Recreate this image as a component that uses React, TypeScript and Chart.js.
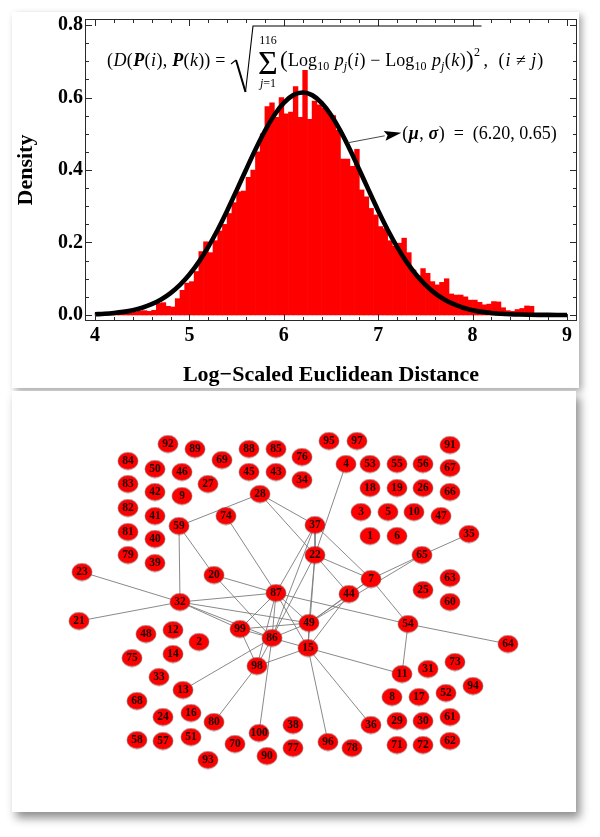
import React, { useEffect, useRef } from "react";
import { Chart, registerables } from "chart.js";
Chart.register(...registerables);

// ---------- Histogram data (bin left edges, density) ----------
const binLeft = [
  4.0, 4.05, 4.1, 4.15, 4.2, 4.25, 4.3, 4.35, 4.4, 4.45, 4.5, 4.55, 4.6, 4.65, 4.7, 4.75, 4.8, 4.85, 4.9, 4.95,
  5.0, 5.05, 5.1, 5.15, 5.2, 5.25, 5.3, 5.35, 5.4, 5.45, 5.5, 5.55, 5.6, 5.65, 5.7, 5.75, 5.8, 5.85, 5.9, 5.95,
  6.0, 6.05, 6.1, 6.15, 6.2, 6.25, 6.3, 6.35, 6.4, 6.45, 6.5, 6.55, 6.6, 6.65, 6.7, 6.75, 6.8, 6.85, 6.9, 6.95,
  7.0, 7.05, 7.1, 7.15, 7.2, 7.25, 7.3, 7.35, 7.4, 7.45, 7.5, 7.55, 7.6, 7.65, 7.7, 7.75, 7.8, 7.85, 7.9, 7.95,
  8.0, 8.05, 8.1, 8.15, 8.2, 8.25, 8.3, 8.35, 8.4, 8.45, 8.5, 8.55, 8.6,
];
const binWidth = 0.05;
const density = [
  0.004, 0.003, 0.003, 0.004, 0.003, 0.004, 0.006, 0.005, 0.008, 0.011, 0.012, 0.01, 0.013, 0.032, 0.034, 0.024, 0.022, 0.045, 0.068, 0.088,
  0.092, 0.12, 0.175, 0.202, 0.172, 0.205, 0.232, 0.25, 0.28, 0.31, 0.34, 0.342, 0.38, 0.4, 0.45, 0.5, 0.575, 0.585, 0.545, 0.6,
  0.555, 0.56, 0.63, 0.545, 0.675, 0.54, 0.59, 0.58, 0.57, 0.56, 0.55, 0.51, 0.43, 0.43, 0.41, 0.457, 0.345, 0.326, 0.294, 0.276,
  0.244, 0.238, 0.205, 0.19, 0.198, 0.212, 0.172, 0.124, 0.108, 0.128, 0.115, 0.092, 0.083, 0.09, 0.1, 0.058, 0.055, 0.055, 0.05, 0.041,
  0.041, 0.035, 0.028, 0.03, 0.037, 0.036, 0.02, 0.012, 0.01, 0.015, 0.018, 0.025, 0.024,
];

// ---------- Fitted curve ----------
const curveX = [
  4.0, 4.1, 4.2, 4.3, 4.4, 4.5, 4.6, 4.7, 4.8, 4.9, 5.0, 5.1, 5.2, 5.3, 5.4, 5.5, 5.6, 5.7, 5.8, 5.9,
  6.0, 6.1, 6.2, 6.3, 6.4, 6.5, 6.6, 6.7, 6.8, 6.9, 7.0, 7.1, 7.2, 7.3, 7.4, 7.5, 7.6, 7.7, 7.8, 7.9,
  8.0, 8.1, 8.2, 8.3, 8.4, 8.5, 8.6, 8.7, 8.8, 8.9, 9.0,
];
const curveY = [
  0.002, 0.0033, 0.0054, 0.0086, 0.0133, 0.0201, 0.0297, 0.0428, 0.0604, 0.0831, 0.1117, 0.1466, 0.188, 0.2353, 0.2878, 0.3437, 0.4009, 0.4566, 0.5079, 0.5518,
  0.5854, 0.6066, 0.6138, 0.6066, 0.5854, 0.5518, 0.5079, 0.4566, 0.4009, 0.3437, 0.2878, 0.2353, 0.188, 0.1466, 0.1117, 0.0831, 0.0604, 0.0428, 0.0297, 0.0201,
  0.0133, 0.0086, 0.0054, 0.0033, 0.002, 0.0012, 0.0007, 0.0004, 0.0002, 0.0001, 0.0,
];
const fitMu = 6.2;
const fitSigma = 0.65;

const xTickValues = [4, 5, 6, 7, 8, 9];
const yTickValues = [0, 0.2, 0.4, 0.6, 0.8];
const xAxisTitle = "Log\u2212Scaled Euclidean Distance";
const yAxisTitle = "Density";

// ---------- Network data ----------
const nodeIds = [
  1, 2, 3, 4, 5, 6, 7, 8, 9, 10, 11, 12, 13, 14, 15, 16, 17, 18, 19, 20,
  21, 22, 23, 24, 25, 26, 27, 28, 29, 30, 31, 32, 33, 34, 35, 36, 37, 38, 39, 40,
  41, 42, 43, 44, 45, 46, 47, 48, 49, 50, 51, 52, 53, 54, 55, 56, 57, 58, 59, 60,
  61, 62, 63, 64, 65, 66, 67, 68, 69, 70, 71, 72, 73, 74, 75, 76, 77, 78, 79, 80,
  81, 82, 83, 84, 85, 86, 87, 88, 89, 90, 91, 92, 93, 94, 95, 96, 97, 98, 99, 100,
];
const nodeX = [
  370, 199, 361, 346, 388, 397, 371, 392, 182, 414, 402, 173, 183, 173, 308, 191, 419, 370, 397, 214,
  79, 315, 82, 163, 423, 423, 208, 260, 397, 423, 428, 180, 159, 302, 469, 371, 315, 293, 155, 155,
  155, 155, 276, 349, 249, 182, 441, 146, 309, 155, 191, 446, 370, 408, 397, 423, 163, 137, 179, 450,
  450, 450, 450, 508, 422, 450, 450, 137, 222, 235, 397, 423, 455, 226, 132, 302, 293, 352, 128, 214,
  128, 128, 128, 128, 276, 272, 276, 249, 195, 267, 450, 168, 208, 473, 329, 328, 357, 257, 240, 259,
];
const nodeY = [
  536, 642, 512, 464, 512, 536, 579, 697, 496, 512, 674, 630, 690, 654, 648, 713, 697, 488, 488, 575,
  621, 555, 572, 717, 590, 488, 484, 494, 721, 721, 669, 602, 677, 480, 534, 725, 525, 725, 563, 539,
  516, 492, 472, 594, 472, 472, 516, 634, 623, 469, 737, 693, 464, 624, 464, 464, 741, 740, 526, 602,
  717, 741, 578, 644, 555, 492, 468, 701, 460, 744, 745, 745, 662, 516, 658, 457, 748, 748, 555, 722,
  532, 508, 484, 461, 449, 638, 593, 449, 449, 756, 445, 444, 760, 686, 441, 742, 441, 666, 629, 733,
];
const edgeFrom = [
  28, 28, 28, 59, 59, 74, 20, 20, 23, 21, 32, 32, 32, 32, 37, 37, 37, 37, 4, 22,
  22, 22, 22, 22, 7, 49, 65, 7, 7, 7, 44, 44, 87, 87, 87, 87, 87, 87, 99, 99,
  99, 86, 86, 86, 86, 13, 98, 98, 15, 15, 15, 15, 54, 54,
];
const edgeTo = [
  59, 37, 22, 32, 20, 87, 87, 86, 32, 32, 87, 99, 86, 49, 22, 87, 7, 86, 22, 7,
  44, 49, 15, 86, 65, 65, 35, 54, 49, 44, 49, 15, 54, 99, 86, 98, 15, 49, 86, 98,
  49, 49, 15, 98, 100, 86, 80, 15, 96, 36, 11, 49, 11, 64,
];

const SERIF = '"Liberation Serif", "Times New Roman", serif';

export default function App() {
  const topRef = useRef<HTMLCanvasElement>(null);
  const botRef = useRef<HTMLCanvasElement>(null);

  useEffect(() => {
    const charts: Chart[] = [];

    // ---------------- Top: histogram ----------------
    const framePlugin = {
      id: "frameTicks",
      afterDatasetsDraw(chart: any) {
        const { ctx, chartArea: a, scales } = chart;
        const xs = scales.x;
        const ys = scales.y;
        ctx.save();
        ctx.strokeStyle = "#2a2a2a";
        ctx.lineWidth = 1;
        ctx.strokeRect(a.left + 0.5, a.top + 0.5, a.right - a.left - 1, a.bottom - a.top - 1);
        const seg = (x1: number, y1: number, x2: number, y2: number) => {
          ctx.beginPath();
          ctx.moveTo(x1, y1);
          ctx.lineTo(x2, y2);
          ctx.stroke();
        };
        for (let k = 0; k <= 25; k++) {
          const v = xTickValues[0] + k * 0.2;
          const px = Math.round(xs.getPixelForValue(v)) + 0.5;
          const len = k % 5 === 0 ? 7 : 4;
          seg(px, a.bottom, px, a.bottom - len);
          seg(px, a.top, px, a.top + len);
        }
        for (let k = 0; k <= 16; k++) {
          const v = k * 0.05;
          const py = Math.round(ys.getPixelForValue(v)) + 0.5;
          const len = k % 4 === 0 ? 7 : 4;
          seg(a.left, py, a.left + len, py);
          seg(a.right, py, a.right - len, py);
        }

        // --- runs of text helper
        ctx.fillStyle = "#000";
        ctx.textAlign = "left";
        ctx.textBaseline = "alphabetic";
        const F = (style: string, size: number) => `${style} ${size}px ${SERIF}`;
        const R = F("", 18), I = F("italic", 18), BI = F("italic bold", 18);
        const S = F("", 12), SI = F("italic", 12), BIG = F("", 23);
        const runs = (x0: number, y0: number, list: any[]) => {
          let x = x0;
          for (const [t, f, dy, gap] of list) {
            ctx.font = f;
            ctx.fillText(t, x, y0 + (dy || 0));
            x += ctx.measureText(t).width + (gap || 0.4);
          }
          return x;
        };

        // --- annotation arrow
        const p1x = xs.getPixelForValue(6.676), p1y = ys.getPixelForValue(0.475);
        const p2x = xs.getPixelForValue(7.245), p2y = ys.getPixelForValue(0.503);
        const ang = Math.atan2(p2y - p1y, p2x - p1x);
        const hl = 17, hw = 5;
        const bx = p2x - hl * Math.cos(ang), by = p2y - hl * Math.sin(ang);
        ctx.strokeStyle = "#333";
        ctx.lineWidth = 0.9;
        seg(p1x, p1y, bx, by);
        ctx.beginPath();
        ctx.moveTo(p2x, p2y);
        ctx.lineTo(bx + hw * Math.sin(ang), by - hw * Math.cos(ang));
        ctx.lineTo(bx + 3 * Math.cos(ang), by + 3 * Math.sin(ang));
        ctx.lineTo(bx - hw * Math.sin(ang), by + hw * Math.cos(ang));
        ctx.closePath();
        ctx.fill();
        runs(p2x + 1, p2y + 6, [
          ["(", R], ["\u03BC", BI], [", ", R], ["\u03C3", BI],
          [`)  =  (${fitMu.toFixed(2)}, ${fitSigma.toFixed(2)})`, R],
        ]);

        // --- formula
        const X0 = a.left + 22, Y0 = a.top + 47;
        runs(X0, Y0, [
          ["(", R], ["D", I], ["(", R], ["P", BI], ["(", R], ["i", I], [")", R], [", ", R],
          ["P", BI], ["(", R], ["k", I], ["))", R], [" =", R],
        ]);
        // sigma with limits
        ctx.textAlign = "center";
        ctx.font = F("", 34);
        ctx.fillText("\u03A3", X0 + 161, Y0 + 8);
        ctx.font = S;
        ctx.fillText("116", X0 + 161, Y0 - 22);
        ctx.textAlign = "left";
        ctx.font = SI;
        const jw = ctx.measureText("j").width;
        ctx.font = S;
        const ew = ctx.measureText("=1").width;
        const jx = X0 + 161 - (jw + ew) / 2;
        ctx.font = SI;
        ctx.fillText("j", jx, Y0 + 21);
        ctx.font = S;
        ctx.fillText("=1", jx + jw, Y0 + 21);
        // bracket body
        const endB = runs(X0 + 173, Y0, [
          ["(", BIG, 1], ["Log", R, 0, 0.3], ["10", S, 4], [" ", R], ["p", I, 0, 0.2], ["j", SI, 4], ["(", R], ["i", I], [")", R],
          [" \u2212 ", R], ["Log", R, 0, 0.3], ["10", S, 4], [" ", R], ["p", I, 0, 0.2], ["j", SI, 4], ["(", R], ["k", I], [")", R],
          [")", BIG, 1], ["2", S, -10],
        ]);
        runs(endB + 3, Y0, [[",", R, 0, 6], [" (", R, 0, 1], ["i", I, 0, 1], [" \u2260 ", R, 0, 1], ["j", I, 0, 1], [")", R]]);
        // radical sign
        ctx.strokeStyle = "#000";
        ctx.lineWidth = 1.1;
        ctx.beginPath();
        ctx.moveTo(X0 + 124, Y0 - 2);
        ctx.lineTo(X0 + 129, Y0 - 6);
        ctx.stroke();
        ctx.lineWidth = 2;
        ctx.beginPath();
        ctx.moveTo(X0 + 129, Y0 - 6);
        ctx.lineTo(X0 + 138.5, Y0 + 26);
        ctx.stroke();
        ctx.lineWidth = 1.1;
        ctx.beginPath();
        ctx.moveTo(X0 + 138.5, Y0 + 26);
        ctx.lineTo(X0 + 146, Y0 - 40);
        ctx.lineTo(endB + 1, Y0 - 40);
        ctx.stroke();
        ctx.restore();
      },
    };

    if (topRef.current) {
      const tickFont = { family: SERIF, size: 20, weight: "bold" as const };
      charts.push(
        new Chart(topRef.current, {
          type: "bar",
          data: {
            datasets: [
              {
                type: "line",
                data: curveX.map((x, i) => ({ x, y: curveY[i] })),
                borderColor: "#000",
                borderWidth: 4.6,
                pointRadius: 0,
                tension: 0.4,
                cubicInterpolationMode: "monotone",
                order: 0,
              } as any,
              {
                type: "bar",
                data: binLeft.map((x, i) => ({ x: x + binWidth / 2, y: density[i] })),
                backgroundColor: "#ff0000",
                borderWidth: 0,
                barPercentage: 1,
                categoryPercentage: 1,
                order: 1,
              } as any,
            ],
          },
          options: {
            responsive: false,
            animation: false,
            events: [],
            layout: { autoPadding: false, padding: { left: 0, right: 23, top: 19, bottom: 0 } },
            plugins: { legend: { display: false }, tooltip: { enabled: false } },
            scales: {
              x: {
                type: "linear",
                min: 3.894,
                max: 9.106,
                offset: false,
                grid: { display: false, drawTicks: false },
                border: { display: false },
                afterBuildTicks: (s: any) => {
                  s.ticks = xTickValues.map((v) => ({ value: v }));
                },
                afterFit: (s: any) => {
                  s.height = 69;
                },
                ticks: { font: tickFont, color: "#000", padding: 3, maxRotation: 0, callback: (v: any) => String(v) },
                title: {
                  display: true,
                  text: xAxisTitle,
                  color: "#000",
                  font: { family: SERIF, size: 22, weight: "bold" },
                  padding: { top: 0, bottom: 1 },
                },
              },
              y: {
                type: "linear",
                min: -0.0166,
                max: 0.8166,
                grid: { display: false, drawTicks: false },
                border: { display: false },
                afterBuildTicks: (s: any) => {
                  s.ticks = yTickValues.map((v) => ({ value: v }));
                },
                afterFit: (s: any) => {
                  s.width = 85;
                },
                ticks: { font: tickFont, color: "#000", padding: 2, callback: (v: any) => Number(v).toFixed(1) },
                title: {
                  display: true,
                  text: yAxisTitle,
                  color: "#000",
                  font: { family: SERIF, size: 22, weight: "bold" },
                  padding: { top: 13, bottom: 0 },
                },
              },
            },
          },
          plugins: [framePlugin],
        } as any)
      );
    }

    // ---------------- Bottom: network ----------------
    if (botRef.current) {
      const ell = document.createElement("canvas");
      ell.width = 22;
      ell.height = 19;
      const ec = ell.getContext("2d")!;
      ec.beginPath();
      ec.ellipse(11, 9.5, 10, 8.5, 0, 0, Math.PI * 2);
      ec.fillStyle = "#ff0000";
      ec.fill();
      ec.strokeStyle = "rgba(110,80,80,0.55)";
      ec.lineWidth = 1;
      ec.stroke();

      const idx: Record<number, number> = {};
      nodeIds.forEach((id, i) => (idx[id] = i));
      const edgePts: any[] = [];
      edgeFrom.forEach((f, k) => {
        const a = idx[f], b = idx[edgeTo[k]];
        edgePts.push({ x: nodeX[a], y: nodeY[a] }, { x: nodeX[b], y: nodeY[b] }, { x: NaN, y: NaN });
      });

      const labelPlugin = {
        id: "nodeLabels",
        afterDatasetsDraw(chart: any) {
          const meta = chart.getDatasetMeta(1);
          const ctx = chart.ctx;
          ctx.save();
          ctx.font = `bold 11.5px ${SERIF}`;
          ctx.fillStyle = "#1a0000";
          ctx.textAlign = "center";
          ctx.textBaseline = "middle";
          meta.data.forEach((el: any, i: number) => {
            ctx.fillText(String(nodeIds[i]), el.x, el.y + 0.5);
          });
          ctx.restore();
        },
      };

      charts.push(
        new Chart(botRef.current, {
          type: "scatter",
          data: {
            datasets: [
              {
                type: "line",
                data: edgePts,
                borderColor: "#7c7c7c",
                borderWidth: 0.9,
                pointRadius: 0,
                pointHitRadius: 0,
                spanGaps: false,
                showLine: true,
                tension: 0,
                order: 1,
              } as any,
              {
                type: "scatter",
                data: nodeX.map((x, i) => ({ x, y: nodeY[i] })),
                pointStyle: ell,
                pointRadius: 10,
                order: 0,
              } as any,
            ],
          },
          options: {
            responsive: false,
            animation: false,
            events: [],
            layout: { autoPadding: false, padding: 0 },
            plugins: { legend: { display: false }, tooltip: { enabled: false } },
            scales: {
              x: { type: "linear", display: false, min: 12, max: 578 },
              y: { type: "linear", display: false, min: 391, max: 812, reverse: true },
            },
          },
          plugins: [labelPlugin],
        } as any)
      );
    }

    return () => charts.forEach((c) => c.destroy());
  }, []);

  return (
    <div style={{ position: "absolute", left: 0, top: 0, width: 600, height: 837, background: "#fff", overflow: "hidden" }}>
      <div
        style={{
          position: "absolute", left: 12, top: 12, width: 567, height: 376, background: "#fff",
          boxShadow: "3px 3px 7px rgba(0,0,0,0.35)",
        }}
      />
      <div
        style={{
          position: "absolute", left: 12, top: 391, width: 564, height: 421, background: "#fff",
          boxShadow: "4px 6px 9px rgba(0,0,0,0.45)",
        }}
      />
      <canvas ref={topRef} width={600} height={390} style={{ position: "absolute", left: 0, top: 0, width: 600, height: 390 }} />
      <canvas ref={botRef} width={566} height={421} style={{ position: "absolute", left: 12, top: 391, width: 566, height: 421 }} />
    </div>
  );
}
